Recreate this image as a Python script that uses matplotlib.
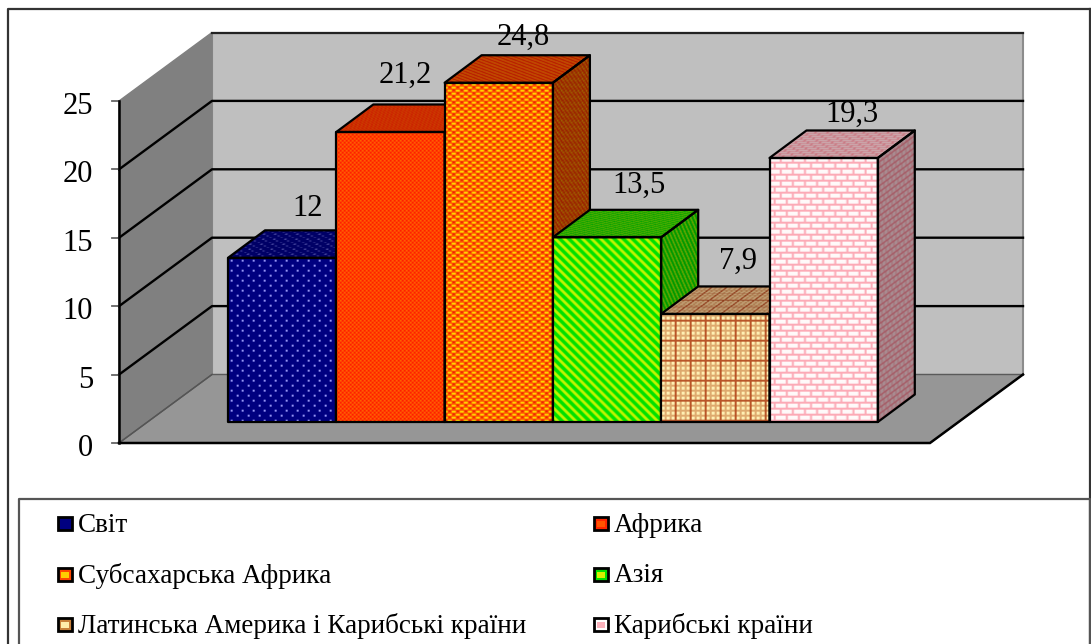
import numpy as np
import matplotlib
matplotlib.use("Agg")
import matplotlib.pyplot as plt
from matplotlib.patches import Polygon, Rectangle

plt.rcParams['font.family'] = ['Liberation Serif', 'DejaVu Serif']

# data
categories = ["Світ", "Африка", "Субсахарська Африка", "Азія",
              "Латинська Америка і Карибські країни", "Карибські країни"]
values = [12, 21.2, 24.8, 13.5, 7.9, 19.3]
value_labels = ["12", "21,2", "24,8", "13,5", "7,9", "19,3"]
y_ticks = [0, 5, 10, 15, 20, 25]

W, H = 1091, 644
PX_X = 108.3   # pixels per bar
PX_Y = 13.68   # pixels per value unit
X0, Y0 = 228, 443  # pixel of x=0, value=0
BAR_DX, BAR_DY = 37, 27.5  # depth of a bar in pixels

fig = plt.figure(figsize=(W / 100, H / 100), dpi=100, facecolor="white")
ax = fig.add_axes([0, 0, 1, 1])
ax.axis("off")


def dx(p):
    return p / PX_X


def dy(p):
    return p / PX_Y


def xd(p):
    return (p - X0) / PX_X


def yd(p):
    return (Y0 - p) / PX_Y


# textures, integer pixel grids -> rgb
def tex_dots(x, y):
    img = np.zeros(x.shape + (3,)) + np.array([0, 0, 128])
    row = y // 5
    xs = x + 5 * (row % 2)
    img[(xs % 11 < 2) & (y % 5 < 2)] = (150, 150, 245)
    return img


def tex_red(x, y):
    img = np.zeros(x.shape + (3,)) + np.array([255, 30, 0])
    img[(x // 2 + y // 2) % 2 == 0] = (255, 95, 0)
    return img


def tex_weave(x, y):
    img = np.zeros(x.shape + (3,)) + np.array([255, 75, 0])
    row = y // 3
    xs = x + 4 * (row % 2)
    img[(xs % 8 < 4) & (y % 3 < 2)] = (255, 215, 0)
    img[(xs % 8 >= 5) & (xs % 8 < 7) & (y % 3 == 0)] = (220, 20, 0)
    return img


def tex_stripes(x, y):
    img = np.zeros(x.shape + (3,)) + np.array([0, 225, 0])
    img[(x - y) % 9 < 4] = (195, 245, 0)
    return img


def tex_plaid(x, y):
    img = np.zeros(x.shape + (3,)) + np.array([255, 240, 180])
    img[(x % 5 < 2) | (y % 5 < 2)] = (222, 170, 110)
    img[(x % 15 < 2) | (y % 20 < 2)] = (185, 85, 40)
    return img


def tex_brick(x, y):
    img = np.zeros(x.shape + (3,)) + np.array([255, 250, 250])
    row = y // 6
    xs = x + 6 * (row % 2)
    img[y % 6 < 2] = (252, 170, 182)
    img[xs % 12 < 2] = (252, 170, 182)
    return img


textures = [tex_dots, tex_red, tex_weave, tex_stripes, tex_plaid, tex_brick]
top_shade = [(0.80, 0.80, 0.80), (0.80, 0.75, 0.7), (0.75, 0.6, 0.6),
             (0.55, 0.72, 0.3), (0.78, 0.72, 0.72), (0.8, 0.66, 0.68)]
side_shade = [(0.6, 0.6, 0.6), (0.6, 0.6, 0.6), (0.62, 0.5, 0.5),
              (0.5, 0.68, 0.3), (0.6, 0.6, 0.6), (0.66, 0.56, 0.58)]


def map_front(x, y, ox, oy):
    return x, y


def map_top(x, y, ox, oy):
    # oy is the front edge of the top face
    return x - (oy - y) * BAR_DX / BAR_DY, (oy - y) * 3


def map_side(x, y, ox, oy):
    # ox is the front edge of the side face
    return (x - ox) * 3, y + (x - ox) * BAR_DY / BAR_DX


def face(pts, tex, mapping=map_front, shade=(1, 1, 1), z=3):
    # pts in data coords; fill the polygon with a pixel texture
    pts = np.array(pts)
    px = pts[:, 0] * PX_X + X0
    py = Y0 - pts[:, 1] * PX_Y
    x0, x1 = int(np.floor(px.min())), int(np.ceil(px.max()))
    y0, y1 = int(np.floor(py.min())), int(np.ceil(py.max()))
    xx, yy = np.meshgrid(np.arange(x0, x1), np.arange(y0, y1))
    img = 0
    # average a few samples for the soft look of the original
    offs = [0, 0.5, 1.0]
    for a in offs:
        for b in offs:
            u, v = mapping(xx + a, yy + b, px.min(), py.max())
            img = img + tex(np.floor(u).astype(int), np.floor(v).astype(int))
    img = img / len(offs) ** 2 * np.array(shade) / 255.0
    im = ax.imshow(img, extent=(xd(x0), xd(x1), yd(y1), yd(y0)), aspect="auto",
                   interpolation="bilinear", zorder=z)
    im.set_clip_path(Polygon(pts, closed=True, transform=ax.transData))
    ax.add_patch(Polygon(pts, closed=True, facecolor="none", edgecolor="black", lw=1.6,
                         zorder=z + 0.1, joinstyle="round"))


# walls of the chart
wall_dx, wall_dy = dx(93), dy(68.5)
fx0, fx1 = xd(119), xd(930)
top = y_ticks[-1]

ax.add_patch(Polygon([(fx0 + wall_dx, wall_dy), (fx1 + wall_dx, wall_dy),
                      (fx1 + wall_dx, top + wall_dy), (fx0 + wall_dx, top + wall_dy)],
                     facecolor="#bfbfbf", edgecolor="#8c8c8c", lw=1.5, zorder=1))
ax.add_patch(Polygon([(fx0, 0), (fx1, 0), (fx1 + wall_dx, wall_dy), (fx0 + wall_dx, wall_dy)],
                     facecolor="#969696", edgecolor="#5a5a5a", lw=1, zorder=1.2))
ax.add_patch(Polygon([(fx0, 0), (fx0 + wall_dx, wall_dy), (fx0 + wall_dx, top + wall_dy), (fx0, top)],
                     facecolor="#808080", edgecolor="#808080", lw=1, zorder=1.1))
ax.plot([fx0 + wall_dx, fx1 + wall_dx], [top + wall_dy] * 2, color="#222222", lw=1.6, zorder=1.5)
ax.plot([fx0 + wall_dx, fx0], [wall_dy, 0], color="#555555", lw=1, zorder=1.5)

for t in y_ticks[1:-1]:
    ax.plot([fx0, fx0 + wall_dx, fx1 + wall_dx], [t, t + wall_dy, t + wall_dy],
            color="black", lw=1.7, zorder=1.5)

for t in y_ticks:
    ax.plot([fx0 - dx(7), fx0], [t, t], color="#666666", lw=1.3, zorder=2)
    ax.text(xd(93), t - dy(2), str(t), ha="right", va="center_baseline", fontsize=22, color="black")

ax.plot([fx0, fx0], [0, top], color="black", lw=1.8, zorder=2)
ax.plot([fx0, fx1, fx1 + wall_dx], [0, 0, wall_dy], color="black", lw=1.8, zorder=2,
        solid_joinstyle="miter")

# bars
base = yd(422)
bar_dx, bar_dy = dx(BAR_DX), dy(BAR_DY)
for i, v in enumerate(values):
    l, r = i, i + 1
    h = base + v
    face([(l, base), (r, base), (r, h), (l, h)], textures[i], z=3 + i)
    face([(l, h), (r, h), (r + bar_dx, h + bar_dy), (l + bar_dx, h + bar_dy)],
         textures[i], map_top, top_shade[i], z=3 + i)
    face([(r, base), (r + bar_dx, base + bar_dy), (r + bar_dx, h + bar_dy), (r, h)],
         textures[i], map_side, side_shade[i], z=3 + i)

# value labels, offsets in pixels from the bar's top-left corner
label_dx = [80, 69, 79, 86, 77, 82]
label_dy = [49, 57, 45, 52, 53, 44]
for i, v in enumerate(values):
    ax.text(i + dx(label_dx[i]), base + v + dy(label_dy[i]), value_labels[i],
            ha="center", va="center", fontsize=22, color="black", zorder=20)

# chart frame and legend box
ax.plot([xd(8), xd(8), xd(1090)], [yd(H), yd(9), yd(9)], color="#333333", lw=1.6, zorder=0.5)
ax.plot([xd(1090), xd(1090)], [yd(9), yd(H)], color="#333333", lw=1.6, zorder=0.5)
ax.plot([xd(19), xd(19), xd(1090), xd(1090)], [yd(H), yd(499), yd(499), yd(H)],
        color="#555555", lw=1.6, zorder=0.6)

# legend
leg_x = [58, 594]
leg_y = [524, 575, 625]
swatch = [("#000080", "#000080"), ("#ff2600", "#ff5500"), ("#ff4600", "#ffcd00"),
          ("#00e100", "#d8f000"), ("#c8803a", "#ffecaa"), ("#ffffff", "#fbb2bc")]
for i, name in enumerate(categories):
    lx = leg_x[i % 2]
    ly = leg_y[i // 2]
    ax.add_patch(Rectangle((xd(lx), yd(ly + 6)), dx(14), dy(13), facecolor=swatch[i][0],
                           edgecolor="black", lw=2, zorder=10))
    ax.add_patch(Rectangle((xd(lx + 3), yd(ly + 3)), dx(8), dy(6), facecolor=swatch[i][1],
                           edgecolor="none", zorder=11))
    ax.text(xd(lx + 20), yd(ly + 1), name, ha="left", va="center", fontsize=19.5, color="black", zorder=12)

ax.set_xlim(xd(0), xd(W))
ax.set_ylim(yd(H), yd(0))
fig.savefig("out.png", dpi=100)
